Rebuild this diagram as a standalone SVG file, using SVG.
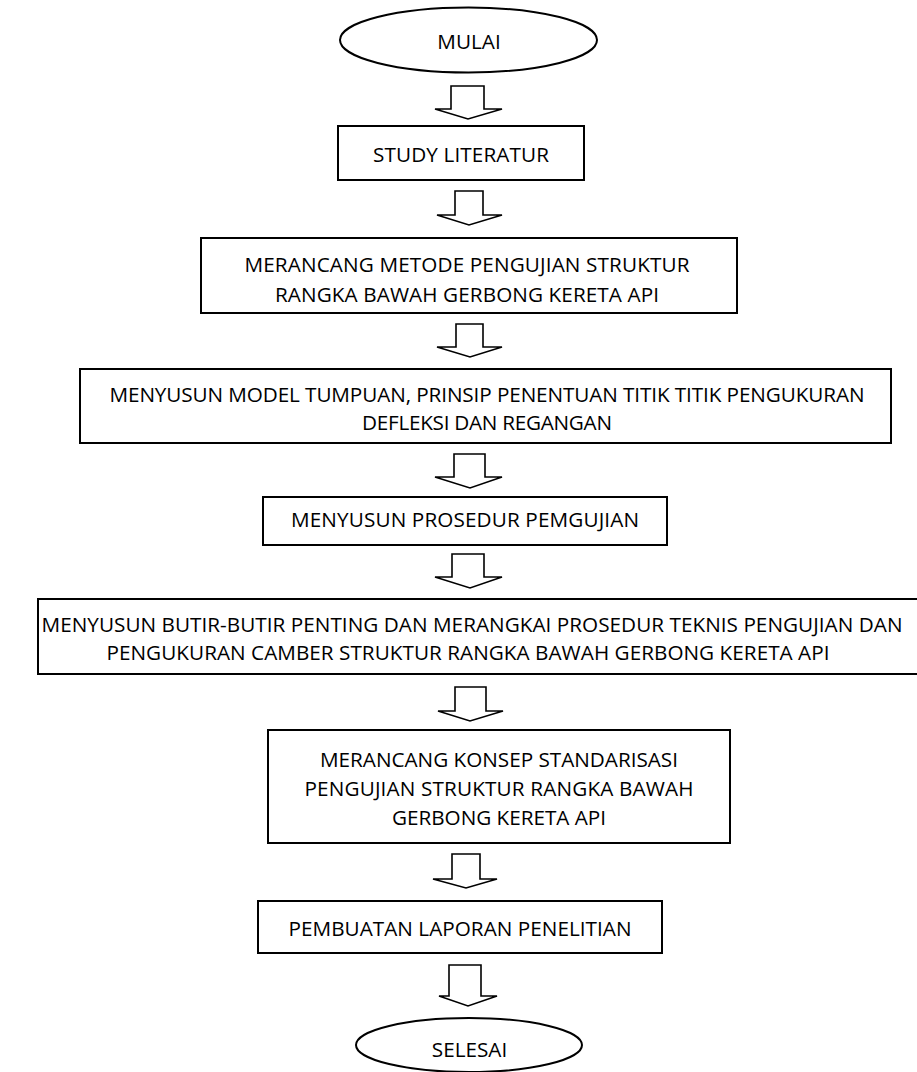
<svg xmlns="http://www.w3.org/2000/svg" width="917" height="1072" viewBox="0 0 917 1072">
<style>
.box{fill:#fff;stroke:#000;stroke-width:2}
.arr{fill:#fff;stroke:#000;stroke-width:1.6;stroke-linejoin:miter}
.t{font-family:"Open Sans","Liberation Sans",sans-serif;font-size:20.7px;text-anchor:middle;fill:#000}
</style>
<rect width="917" height="1072" fill="#fff"/>
<g id="connectors">
<path class="arr" d="M451,86 L484,86 L484,109 L502,109 L468,119 L435,109 L451,109 Z"/>
<path class="arr" d="M455,191 L483,191 L483,215 L502,215 L469,225 L437,215 L455,215 Z"/>
<path class="arr" d="M456,324 L483,324 L483,347 L502,347 L470,357 L437,347 L456,347 Z"/>
<path class="arr" d="M454,454 L485,454 L485,477 L502,477 L470,488 L435,477 L454,477 Z"/>
<path class="arr" d="M452,554 L484,554 L484,577 L502,577 L470,588 L435,577 L452,577 Z"/>
<path class="arr" d="M455,687 L486,687 L486,711 L503,711 L470,721 L438,711 L455,711 Z"/>
<path class="arr" d="M452,854 L480,854 L480,879 L497,879 L466,888 L433,879 L452,879 Z"/>
<path class="arr" d="M449,965 L481,965 L481,996 L497,996 L468,1006 L439,996 L449,996 Z"/>
</g>
<g id="mulai">
<ellipse class="box" cx="468.5" cy="40" rx="128.5" ry="32.5"/>
<text class="t" x="469" y="49">MULAI</text>
</g>
<g id="study">
<rect class="box" x="338" y="126" width="246" height="54"/>
<text class="t" x="461" y="162" textLength="176">STUDY LITERATUR</text>
</g>
<g id="merancang-metode">
<rect class="box" x="201" y="238" width="536" height="75"/>
<text class="t" x="467" y="272" textLength="445">MERANCANG METODE PENGUJIAN STRUKTUR</text>
<text class="t" x="467" y="302" textLength="384">RANGKA BAWAH GERBONG KERETA API</text>
</g>
<g id="menyusun-model">
<rect class="box" x="80" y="369" width="811" height="74"/>
<text class="t" x="487" y="402" textLength="755">MENYUSUN MODEL TUMPUAN, PRINSIP PENENTUAN TITIK TITIK PENGUKURAN</text>
<text class="t" x="487" y="430" textLength="250">DEFLEKSI DAN REGANGAN</text>
</g>
<g id="menyusun-prosedur">
<rect class="box" x="263" y="497" width="404" height="48"/>
<text class="t" x="465" y="527" textLength="348">MENYUSUN PROSEDUR PEMGUJIAN</text>
</g>
<g id="menyusun-butir">
<rect class="box" x="38" y="599" width="892" height="75"/>
<text class="t" x="472" y="632" textLength="861">MENYUSUN BUTIR-BUTIR PENTING DAN MERANGKAI PROSEDUR TEKNIS PENGUJIAN DAN</text>
<text class="t" x="468" y="660" textLength="723">PENGUKURAN CAMBER STRUKTUR RANGKA BAWAH GERBONG KERETA API</text>
</g>
<g id="merancang-konsep">
<rect class="box" x="268" y="730" width="462" height="113"/>
<text class="t" x="499" y="767" textLength="358">MERANCANG KONSEP STANDARISASI</text>
<text class="t" x="499" y="796" textLength="389">PENGUJIAN STRUKTUR RANGKA BAWAH</text>
<text class="t" x="499" y="825" textLength="214">GERBONG KERETA API</text>
</g>
<g id="pembuatan">
<rect class="box" x="258" y="901" width="404" height="52"/>
<text class="t" x="460" y="936" textLength="343">PEMBUATAN LAPORAN PENELITIAN</text>
</g>
<g id="selesai">
<ellipse class="box" cx="469" cy="1045" rx="113" ry="27"/>
<text class="t" x="469.5" y="1057">SELESAI</text>
</g>
</svg>
